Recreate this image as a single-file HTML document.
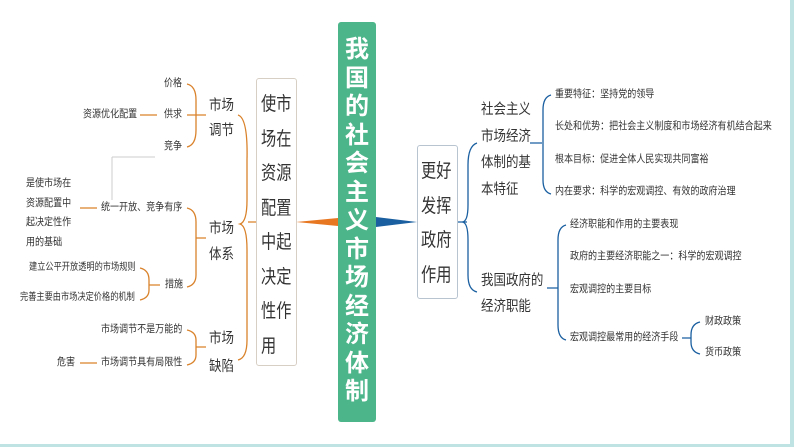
<!DOCTYPE html>
<html><head><meta charset="utf-8"><style>
body{margin:0;width:794px;height:447px;background:#fff;position:relative;overflow:hidden;font-family:"Liberation Sans","Noto Sans CJK SC",sans-serif;color:#333}
.t{position:absolute;white-space:nowrap;line-height:1;transform-origin:left top}
.s{font-size:10.5px;transform:scaleX(.86)}
.s2{font-size:10px;transform:scaleX(.82)}
.m{font-size:10.5px;transform:scaleX(.86)}
.l{font-size:14.5px;transform:scaleX(.86)}
.b{font-size:19px;transform:scaleX(.8);line-height:34.5px;white-space:normal;width:40px}
</style></head><body>
<div style="position:absolute;right:0;top:0;width:4px;height:447px;background:#bfe3e3"></div>
<div style="position:absolute;left:0;bottom:0;width:794px;height:3px;background:#bfe3e3"></div>

<svg width="794" height="447" style="position:absolute;left:0;top:0" fill="none">
<polygon points="296,222 338,218 338,226" fill="#e87722"/>
<polygon points="376,217 376,227 417,222" fill="#1a5fa0"/>
<g stroke="#d9822b" stroke-width="1.3">
<path d="M257,222 H248 M238,115 Q248,118 247,160 V200 Q247,222 240,224 Q247,226 247,250 V340 Q247,358 238,360"/>
<path d="M187,84 Q196,86 196,100 V130 Q196,145 187,147 M187,115 H206"/>
<path d="M187,208 Q196,210 196,222 V275 Q196,285 187,287 M196,238 H206"/>
<path d="M140,268 Q149,270 149,280 V290 Q149,298 140,300 M149,285 H160"/>
<path d="M187,330 Q196,332 196,340 V355 Q196,363 187,365 M196,347 H206"/>
<path d="M140,115 H157 M80,208 H97 M80,363 H97"/>
</g>
<path d="M112,157 H155 M112,157 V200" stroke="#ccc" stroke-width="1"/>
<g stroke="#1a5fa0" stroke-width="1.3">
<path d="M457,222 H467 M477,143 Q468,146 468,165 V205 Q468,222 462,222 Q468,222 468,240 V275 Q468,290 477,292"/>
<path d="M530,143 H542 M551,95 Q543,97 543,110 V180 Q543,192 551,194"/>
<path d="M547,288 H558 M566,225 Q558,227 558,240 V325 Q558,338 566,340"/>
<path d="M682,338 H691 M700,322 Q691,324 691,335 V342 Q691,352 700,354"/>
</g>
</svg>

<div style="position:absolute;left:338px;top:22px;width:38px;height:400px;background:#4cb58a;border-radius:3px"></div>
<div class="t" style="left:341px;top:36px;width:32px;font-size:24px;font-weight:bold;color:#fff;line-height:28.5px;white-space:normal;text-align:center;">我国的社会主义市场经济体制</div>

<div style="position:absolute;left:256px;top:78px;width:39px;height:286px;border:1px solid #d8cfc4;border-radius:3px;background:#fff"></div>
<div class="t b" style="left:261px;top:88px">使市场在资源配置中起决定性作用</div>

<div style="position:absolute;left:417px;top:145px;width:39px;height:152px;border:1px solid #b8c4d0;border-radius:3px;background:#fff"></div>
<div class="t b" style="left:421px;top:155px">更好发挥政府作用</div>

<div class="t l" style="left:209px;top:94px;line-height:25px">市场<br>调节</div>
<div class="t l" style="left:209px;top:216px;line-height:26px">市场<br>体系</div>
<div class="t l" style="left:209px;top:325px;line-height:28px">市场<br>缺陷</div>
<div class="t m" style="left:164px;top:78px">价格</div>
<div class="t m" style="left:164px;top:109px">供求</div>
<div class="t m" style="left:164px;top:141px">竞争</div>
<div class="t m" style="left:83px;top:109px">资源优化配置</div>
<div class="t m" style="left:101px;top:202px">统一开放、竞争有序</div>
<div class="t s" style="left:26px;top:174px;line-height:19.5px">是使市场在<br>资源配置中<br>起决定性作<br>用的基础</div>
<div class="t m" style="left:165px;top:279px">措施</div>
<div class="t s2" style="left:29px;top:263px">建立公平开放透明的市场规则</div>
<div class="t s2" style="left:20px;top:293px">完善主要由市场决定价格的机制</div>
<div class="t m" style="left:101px;top:324px">市场调节不是万能的</div>
<div class="t m" style="left:101px;top:357px">市场调节具有局限性</div>
<div class="t m" style="left:57px;top:357px">危害</div>

<div class="t l" style="left:481px;top:97px;line-height:26.5px">社会主义<br>市场经济<br>体制的基<br>本特征</div>
<div class="t l" style="left:481px;top:268px;line-height:26px">我国政府的<br>经济职能</div>
<div class="t s" style="left:555px;top:89px">重要特征：坚持党的领导</div>
<div class="t s" style="left:555px;top:121px">长处和优势：把社会主义制度和市场经济有机结合起来</div>
<div class="t s" style="left:555px;top:154px">根本目标：促进全体人民实现共同富裕</div>
<div class="t s" style="left:555px;top:186px">内在要求：科学的宏观调控、有效的政府治理</div>
<div class="t s" style="left:570px;top:219px">经济职能和作用的主要表现</div>
<div class="t s" style="left:570px;top:251px">政府的主要经济职能之一：科学的宏观调控</div>
<div class="t s" style="left:570px;top:284px">宏观调控的主要目标</div>
<div class="t s" style="left:570px;top:332px">宏观调控最常用的经济手段</div>
<div class="t s" style="left:705px;top:316px">财政政策</div>
<div class="t s" style="left:705px;top:347px">货币政策</div>
</body></html>
